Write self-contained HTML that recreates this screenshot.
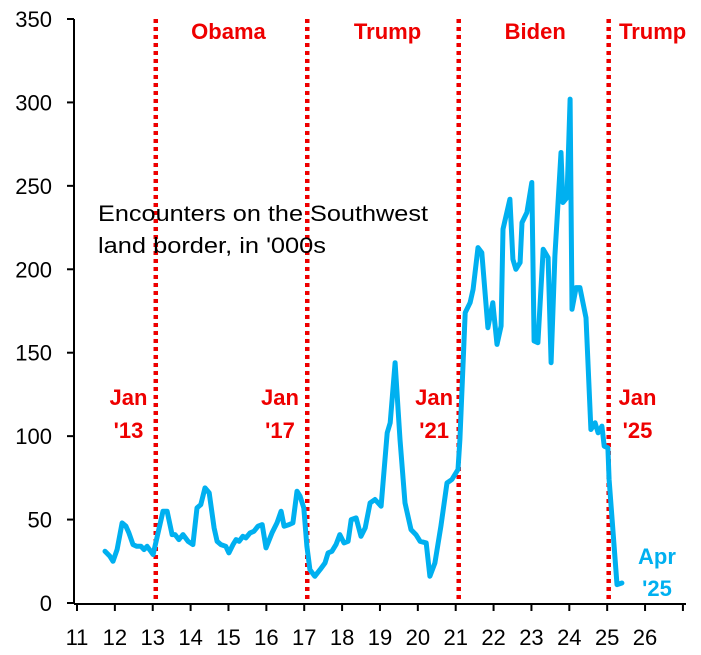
<!DOCTYPE html>
<html><head><meta charset="utf-8"><style>
body{margin:0;background:#fff;}
svg{display:block;font-family:"Liberation Sans",sans-serif;}
</style></head><body>
<svg id="chart" width="701" height="655"></svg>
<script>
const years=[11.74,11.87,11.95,12.06,12.19,12.29,12.37,12.48,12.58,12.69,12.77,12.85,12.95,13.01,13.27,13.38,13.51,13.59,13.69,13.80,13.93,14.06,14.17,14.27,14.38,14.49,14.62,14.70,14.80,14.93,15.01,15.12,15.20,15.28,15.38,15.46,15.57,15.67,15.78,15.89,15.99,16.15,16.28,16.39,16.47,16.60,16.70,16.81,16.89,16.99,17.07,17.15,17.28,17.42,17.55,17.63,17.73,17.84,17.94,18.05,18.16,18.24,18.37,18.50,18.61,18.74,18.87,19.03,19.19,19.27,19.40,19.53,19.66,19.82,19.95,20.06,20.22,20.32,20.45,20.61,20.77,20.90,21.06,21.11,21.25,21.38,21.46,21.59,21.69,21.85,21.98,22.09,22.20,22.25,22.43,22.51,22.59,22.70,22.75,22.88,23.01,23.07,23.17,23.31,23.44,23.52,23.62,23.78,23.83,23.94,24.02,24.07,24.18,24.28,24.44,24.57,24.68,24.76,24.86,24.92,25.02,25.05,25.26,25.39];
const encounters=[31,28,25,32,48,46,42,35,34,34,32,34,31,29,55,55,41,41,38,41,37,35,57,59,69,66,45,37,35,34,30,35,38,37,40,39,42,43,46,47,33,42,48,55,46,47,48,67,64,57,34,20,16,20,24,30,31,35,41,36,37,50,51,40,45,60,62,58,102,108,144,98,60,44,41,37,36,16,24,46,72,74,80,98,174,180,188,213,210,165,180,155,166,224,242,206,200,204,228,234,252,157,156,212,207,144,208,270,240,243,302,176,189,189,171,104,108,102,106,94,93,74,11,12];
const yTicks=[0,50,100,150,200,250,300,350];
const xTicks=[11,12,13,14,15,16,17,18,19,20,21,22,23,24,25,26];
const inaugurations=[13.08,17.08,21.08,25.04];
const presidents=["Obama","Trump","Biden","Trump"];
const presPos=[15.0,19.2,23.1,26.2];
const janLabels=["'13","'17","'21","'25"];
const janPos=[12.36,16.36,20.43,25.8];

const NS="http://www.w3.org/2000/svg";
const svg=document.getElementById('chart');
const X=v=>77+(v-11)*37.87;
const Y=v=>603-v*1.6686;
function mk(t,a,txt){const e=document.createElementNS(NS,t);for(const k in a)e.setAttribute(k,a[k]);if(txt!==undefined)e.textContent=txt;svg.appendChild(e);return e;}

let e=mk('line',{x1:74,y1:19,x2:74,y2:604,stroke:'#000','stroke-width':2});


e=mk('line',{x1:74,y1:604,x2:686,y2:604,stroke:'#000','stroke-width':2});


yTicks.forEach(t=>{
  let l=mk('line',{x1:67,y1:Y(t),x2:74,y2:Y(t),stroke:'#000','stroke-width':2});
  
  
  let tx=mk('text',{x:52,y:Y(t)+8,'text-anchor':'end','font-size':22,fill:'#000'},t);
  
  
});
xTicks.concat([27]).forEach(t=>{
  let l=mk('line',{x1:X(t),y1:604,x2:X(t),y2:611,stroke:'#000','stroke-width':2});
  
  
});
xTicks.forEach(t=>{
  let tx=mk('text',{x:X(t),y:645,'text-anchor':'middle','font-size':22,fill:'#000'},t);
  
  
});
inaugurations.forEach(t=>{
  let l=mk('line',{x1:X(t),y1:19,x2:X(t),y2:603,stroke:'#e00','stroke-width':4.5,'stroke-dasharray':'4 4'});
  
  
});
presidents.forEach((p,i)=>{
  let tx=mk('text',{x:X(presPos[i]),y:39,'text-anchor':'middle','font-size':22,'font-weight':'bold',fill:'#e00'},p);
  
  
});
janLabels.forEach((j,i)=>{
  let tx=mk('text',{x:X(janPos[i]),y:405,'text-anchor':'middle','font-size':22,'font-weight':'bold',fill:'#e00'},'Jan');
  
  
  tx=mk('text',{x:X(janPos[i]),y:438,'text-anchor':'middle','font-size':22,'font-weight':'bold',fill:'#e00'},j);
  
  
});
let d=years.map((y,i)=>(i?'L':'M')+X(y).toFixed(1)+','+Y(encounters[i]).toFixed(1)).join('');
e=mk('path',{d:d,fill:'none',stroke:'#00b0f0','stroke-width':5,'stroke-linejoin':'round','stroke-linecap':'round'});


e=mk('text',{x:98,y:221,'font-size':22,fill:'#000',textLength:330,lengthAdjust:'spacingAndGlyphs'},'Encounters on the Southwest');


e=mk('text',{x:98,y:253,'font-size':22,fill:'#000',textLength:228,lengthAdjust:'spacingAndGlyphs'},"land border, in '000s");


e=mk('text',{x:657,y:564,'text-anchor':'middle','font-size':22,'font-weight':'bold',fill:'#00b0f0'},'Apr');


e=mk('text',{x:657,y:596,'text-anchor':'middle','font-size':22,'font-weight':'bold',fill:'#00b0f0'},"'25");


</script>
</body></html>
